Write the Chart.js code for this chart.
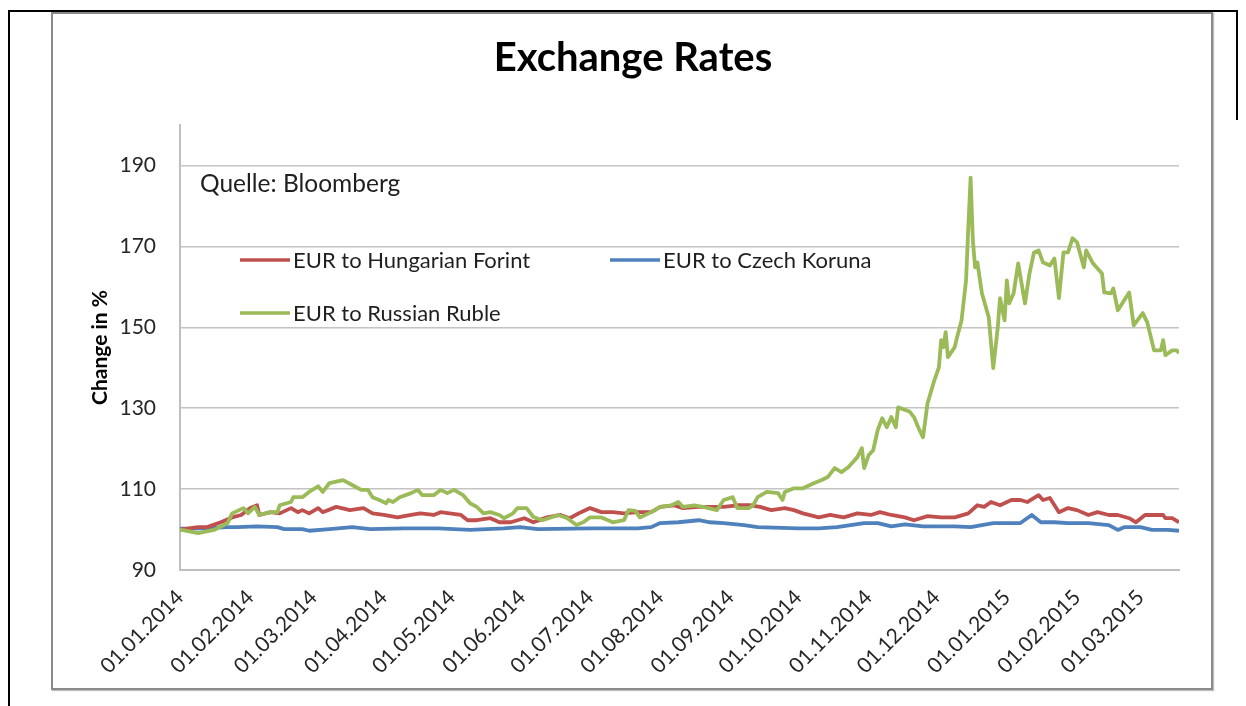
<!DOCTYPE html>
<html>
<head>
<meta charset="utf-8">
<script src="https://cdn.jsdelivr.net/npm/chart.js@4/dist/chart.umd.min.js"></script>
<style>
  html, body { margin: 0; padding: 0; background: #fff; }
  body { width: 1246px; height: 706px; position: relative; overflow: hidden; }
  #outer { position: absolute; left: 8px; top: 10px; width: 1230px; height: 700px;
           border-top: 2px solid #000; border-left: 2px solid #000; box-sizing: border-box; }
  #rightline { position: absolute; left: 1236px; top: 10px; width: 2px; height: 110px; background: #000; }
  #frame { position: absolute; left: 51px; top: 12px; width: 1162px; height: 678px;
           border: 2px solid #8a8a8a; box-sizing: border-box; background: #fff;
           box-shadow: 1px 1px 1px rgba(0,0,0,0.25); }
  #c { position: absolute; left: 0; top: 0; }
</style>
</head>
<body>
<div id="outer"></div>
<div id="rightline"></div>
<div id="frame"><canvas id="c" width="1158" height="674"></canvas></div>
<script>
// ---- Data ----
const chartTitle = "Exchange Rates";
const yAxisTitle = "Change in %";
const sourceNote = "Quelle: Bloomberg";
const seriesNames = ["EUR to Hungarian Forint", "EUR to Czech Koruna", "EUR to Russian Ruble"];
const seriesColors = ["#C0504D", "#4F81BD", "#9BBB59"];

// x tick labels (month starts)
const monthTicks = ["01.01.2014","01.02.2014","01.03.2014","01.04.2014","01.05.2014","01.06.2014",
  "01.07.2014","01.08.2014","01.09.2014","01.10.2014","01.11.2014","01.12.2014",
  "01.01.2015","01.02.2015","01.03.2015"];
const yTicks = [90, 110, 130, 150, 170, 190];
const axisStart = "01.01.2014";
const axisEnd = "18.03.2015";

// Series positions in days since 01.01.2014, with values (index, 01.01.2014 = 100)
const forintDays = [0,8,12,18,23,27,31,34,35,40,44,49,52,54,57,61,63,69,75,81,85,90,96,102,106,112,115,119,124,127,131,137,141,146,152,156,162,168,172,177,181,186,191,196,202,208,212,218,222,229,234,240,246,252,256,261,267,271,275,282,287,293,299,305,309,314,320,324,330,336,342,348,352,355,358,362,367,371,374,379,381,384,388,392,396,401,405,410,414,419,422,426,430,434,435,438,441];
const forintValues = [100,100.6,100.6,101.8,103,103.6,105.3,106,103.6,104.3,104,105.3,104.3,104.8,104,105.3,104.3,105.6,104.8,105.3,104,103.6,103,103.6,104,103.6,104.3,104,103.6,102.3,102.3,102.8,101.8,101.8,102.8,101.8,103,103.6,102.8,104.3,105.3,104.3,104.3,104,104.3,104.3,105.6,106,105.3,105.6,105.6,105.6,106,106,105.6,104.8,105.3,104.8,104,103,103.6,103,104,103.6,104.3,103.6,103,102.3,103.3,103,103,104,106,105.6,106.8,106,107.3,107.3,106.8,108.5,107.3,107.8,104.3,105.3,104.8,103.6,104.3,103.6,103.6,102.8,101.8,103.6,103.6,103.6,102.8,102.8,101.8];

const korunaDays = [0,10,21,25,34,43,46,54,57,66,76,84,99,114,128,143,150,158,181,202,208,212,220,229,234,240,249,255,273,282,290,302,308,314,320,328,342,349,359,371,376,380,386,392,401,410,414,417,424,429,436,441];
const korunaValues = [100.2,100.3,100.6,100.6,100.8,100.6,100.1,100.1,99.7,100.1,100.6,100.1,100.3,100.3,99.9,100.3,100.6,100.1,100.3,100.3,100.6,101.6,101.8,102.3,101.8,101.6,101.1,100.6,100.3,100.3,100.6,101.6,101.6,100.8,101.3,100.8,100.8,100.6,101.6,101.6,103.6,101.8,101.8,101.6,101.6,101.1,99.9,100.6,100.6,99.9,99.9,99.7];

const rubleDays = [0,8,15,21,23,28,30,33,35,40,43,44,49,50,54,57,61,63,66,72,76,80,83,85,88,91,92,94,97,102,105,107,112,115,118,121,125,128,131,134,137,141,143,147,149,153,156,160,167,171,175,178,181,186,189,191,196,198,201,203,208,212,217,220,222,227,231,237,240,244,246,251,253,255,259,264,266,267,271,275,280,283,286,289,292,295,299,301,302,304,306,308,310,312,314,316,317,322,324,326,328,330,333,335,336,337,338,339,342,343,345,347,348,349,350,351,352,354,357,359,361,362,364,365,366,368,370,373,375,377,379,381,384,386,388,390,392,394,396,399,400,403,407,408,411,412,414,419,421,425,427,430,433,434,435,438,440,441];
const rubleValues = [100,99.1,99.9,101.6,104,105.3,104,105.6,103.6,104.3,104.3,106,106.8,108,108,109.3,110.7,109.3,111.5,112.2,111,109.8,109.8,108,107.3,106.5,107.3,106.8,108,109,109.8,108.5,108.5,109.8,109,109.8,108.5,106.5,105.6,104,104.3,103.6,102.8,104,105.3,105.3,103.1,102.3,103.6,102.8,101.1,101.8,103,103,102.3,101.8,102.3,104.8,104.6,103,104.3,105.6,106,106.8,105.6,106,105.6,104.8,107.3,108,105.3,105.3,106,108,109.3,109,107.3,109.3,110.2,110.2,111.5,112.2,113,115.2,114.2,115.4,117.9,120.1,115.2,118.4,119.6,124.6,127.5,125.3,127.8,125.3,130.2,129.2,127.8,125.1,122.8,131.2,136.9,140.1,146.8,145.1,148.8,142.6,145.1,147.5,151.7,161.6,174.7,187,171.5,164.8,166,158.4,152.5,139.9,150,157.2,151.7,161.6,155.9,158.4,165.8,155.9,163.3,168.5,169,166,165.3,167,157.2,168.5,168.5,172,171,164.8,169,165.8,163.3,158.6,158.4,159.6,154.2,158.6,150.5,153.5,151.2,144.3,144.3,146.8,143.1,144.3,144.3,143.6];

// ---- helpers ----
function dayOf(s) {
  const p = s.split(".").map(Number);
  return Math.round((Date.UTC(p[2], p[1] - 1, p[0]) - Date.UTC(2014, 0, 1)) / 86400000);
}
function toPoints(days, vals) { return days.map((d, i) => ({ x: d, y: vals[i] })); }
const tickDays = monthTicks.map(dayOf);
const tickLabelByDay = {};
monthTicks.forEach((t, i) => { tickLabelByDay[tickDays[i]] = t; });

const FONT = "Lato, 'Open Sans', sans-serif";

// legend + note drawn inside the plot area
const legendSpots = [{ x: 187, y: 246 }, { x: 557, y: 246 }, { x: 187, y: 299 }];
const insidePlugin = {
  id: "insideLegend",
  afterDatasetsDraw(chart) {
    const ctx = chart.ctx;
    ctx.save();
    ctx.fillStyle = "#1f1f1f";
    ctx.textBaseline = "middle";
    ctx.font = "24.5px " + FONT;
    ctx.fillText(sourceNote, 147, 170);
    ctx.font = "22px " + FONT;
    chart.data.datasets.forEach((ds, i) => {
      const s = legendSpots[i];
      ctx.strokeStyle = ds.borderColor;
      ctx.lineWidth = 3.5;
      ctx.beginPath();
      ctx.moveTo(s.x, s.y);
      ctx.lineTo(s.x + 50, s.y);
      ctx.stroke();
      ctx.fillText(ds.label, s.x + 53, s.y + 1);
    });
    ctx.restore();
  }
};

const seriesDays = [forintDays, korunaDays, rubleDays];
const seriesValues = [forintValues, korunaValues, rubleValues];
const datasets = seriesNames.map((name, i) => ({
  label: name,
  data: toPoints(seriesDays[i], seriesValues[i]),
  borderColor: seriesColors[i],
  backgroundColor: seriesColors[i],
  borderWidth: 3.8,
  pointRadius: 0,
  tension: 0,
  borderJoinStyle: "round",
  order: [1, 2, 0][i]
}));

new Chart(document.getElementById("c"), {
  type: "line",
  data: { datasets },
  options: {
    responsive: false,
    animation: false,
    devicePixelRatio: 1,
    layout: { padding: { left: 34, right: 32, top: 0, bottom: 0 } },
    plugins: {
      legend: { display: false },
      tooltip: { enabled: false },
      title: {
        display: true,
        text: chartTitle,
        color: "#000",
        font: { family: FONT, size: 40, weight: "bold" },
        padding: { top: 20, bottom: 43 }
      }
    },
    scales: {
      x: {
        type: "linear",
        min: dayOf(axisStart),
        max: dayOf(axisEnd),
        afterBuildTicks: (s) => { s.ticks = tickDays.map(v => ({ value: v })); },
        afterFit: (s) => { s.height = 118; },
        grid: { display: false, drawTicks: false },
        border: { display: true, color: "#bfbfbf", width: 2 },
        ticks: {
          autoSkip: false,
          minRotation: 45, maxRotation: 45,
          padding: 15,
          color: "#262626",
          font: { family: FONT, size: 21 },
          callback: (v) => tickLabelByDay[v] || ""
        }
      },
      y: {
        min: 90, max: 200,
        afterBuildTicks: (s) => { s.ticks = yTicks.map(v => ({ value: v })); },
        afterFit: (s) => { s.width = 93; },
        grid: { color: "#c4c4c4", lineWidth: 1.5, drawTicks: false },
        border: { display: true, color: "#bfbfbf", width: 2 },
        ticks: {
          padding: 24,
          color: "#262626",
          font: { family: FONT, size: 21 }
        },
        title: {
          display: true,
          text: yAxisTitle,
          color: "#000",
          font: { family: FONT, size: 21, weight: "bold" },
          padding: { top: 1, bottom: 0 }
        }
      }
    }
  },
  plugins: [insidePlugin]
});
</script>
</body>
</html>
